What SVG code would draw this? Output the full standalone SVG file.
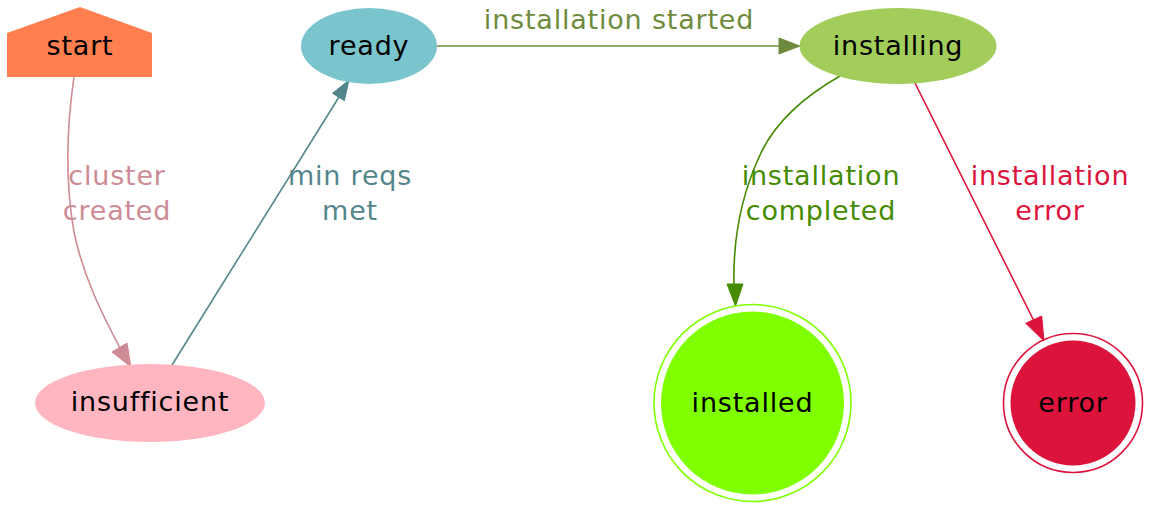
<svg xmlns="http://www.w3.org/2000/svg" width="1152" height="511" viewBox="0 0 1152 511">
<defs>
<style>
text{font-family:"DejaVu Sans","Liberation Sans",sans-serif;font-size:27px;letter-spacing:0.8px;text-anchor:middle}
.node text{fill:#000}
.e{fill:none;stroke-width:1.6}
</style>
</defs>
<rect width="1152" height="511" fill="#fff"/>
<g id="connectors">
<g id="e-start-insufficient">
<path class="e" stroke="#cd8c95" d="M74,77 C68,118 64,175 74,232 C83,276 102,314 120,348"/>
<polygon fill="#cd8c95" stroke="#cd8c95" points="131,367 112,352 127,343"/>
<text fill="#cd8c95" x="117" y="185">cluster</text>
<text fill="#cd8c95" x="117" y="220">created</text>
</g>
<g id="e-insufficient-ready">
<path class="e" stroke="#53868b" d="M172,365 L339,97"/>
<polygon fill="#53868b" stroke="#53868b" points="349,80 344.4,100.7 332.5,93.3"/>
<text fill="#53868b" x="350" y="185">min reqs</text>
<text fill="#53868b" x="350" y="220">met</text>
</g>
<g id="e-ready-installing">
<path class="e" stroke="#6e8b3d" d="M437,46 L779,46"/>
<polygon fill="#6e8b3d" stroke="#6e8b3d" points="800,46 779,38 779,54"/>
<text fill="#6e8b3d" x="619" y="29">installation started</text>
</g>
<g id="e-installing-installed">
<path class="e" stroke="#458b00" d="M840,76 C805,96 775,122 760,155 C740,198 733,245 734,285"/>
<polygon fill="#458b00" stroke="#458b00" points="735.5,306 727,284 743,284"/>
<text fill="#458b00" x="821" y="185">installation</text>
<text fill="#458b00" x="821" y="220">completed</text>
</g>
<g id="e-installing-error">
<path class="e" stroke="#dc143c" d="M915,83 L1034,321"/>
<polygon fill="#dc143c" stroke="#dc143c" points="1044,341 1025.7,323.3 1041.7,316"/>
<text fill="#dc143c" x="1050" y="185">installation</text>
<text fill="#dc143c" x="1050" y="220">error</text>
</g>
</g>
<g id="start" class="node">
<polygon fill="#ff7f50" points="7,77 7,33 80,7 152,33 152,77"/>
<text x="80" y="55">start</text>
</g>
<g id="ready" class="node">
<ellipse fill="#7ac5cd" cx="369" cy="46" rx="68" ry="38"/>
<text x="369" y="55">ready</text>
</g>
<g id="installing" class="node">
<ellipse fill="#a2cd5a" cx="898" cy="46" rx="98.5" ry="38"/>
<text x="898" y="55">installing</text>
</g>
<g id="insufficient" class="node">
<ellipse fill="#ffb6c1" cx="150" cy="403" rx="115" ry="39"/>
<text x="150" y="411">insufficient</text>
</g>
<g id="installed" class="node">
<circle fill="none" stroke="#7fff00" stroke-width="1.6" cx="752.5" cy="403" r="98.5"/>
<circle fill="#7fff00" cx="752.5" cy="403" r="91.5"/>
<text x="752.5" y="411.5">installed</text>
</g>
<g id="error" class="node">
<circle fill="none" stroke="#dc143c" stroke-width="1.6" cx="1073" cy="403" r="69.5"/>
<circle fill="#dc143c" cx="1073" cy="403" r="62.5"/>
<text x="1073" y="411.5">error</text>
</g>
</svg>
